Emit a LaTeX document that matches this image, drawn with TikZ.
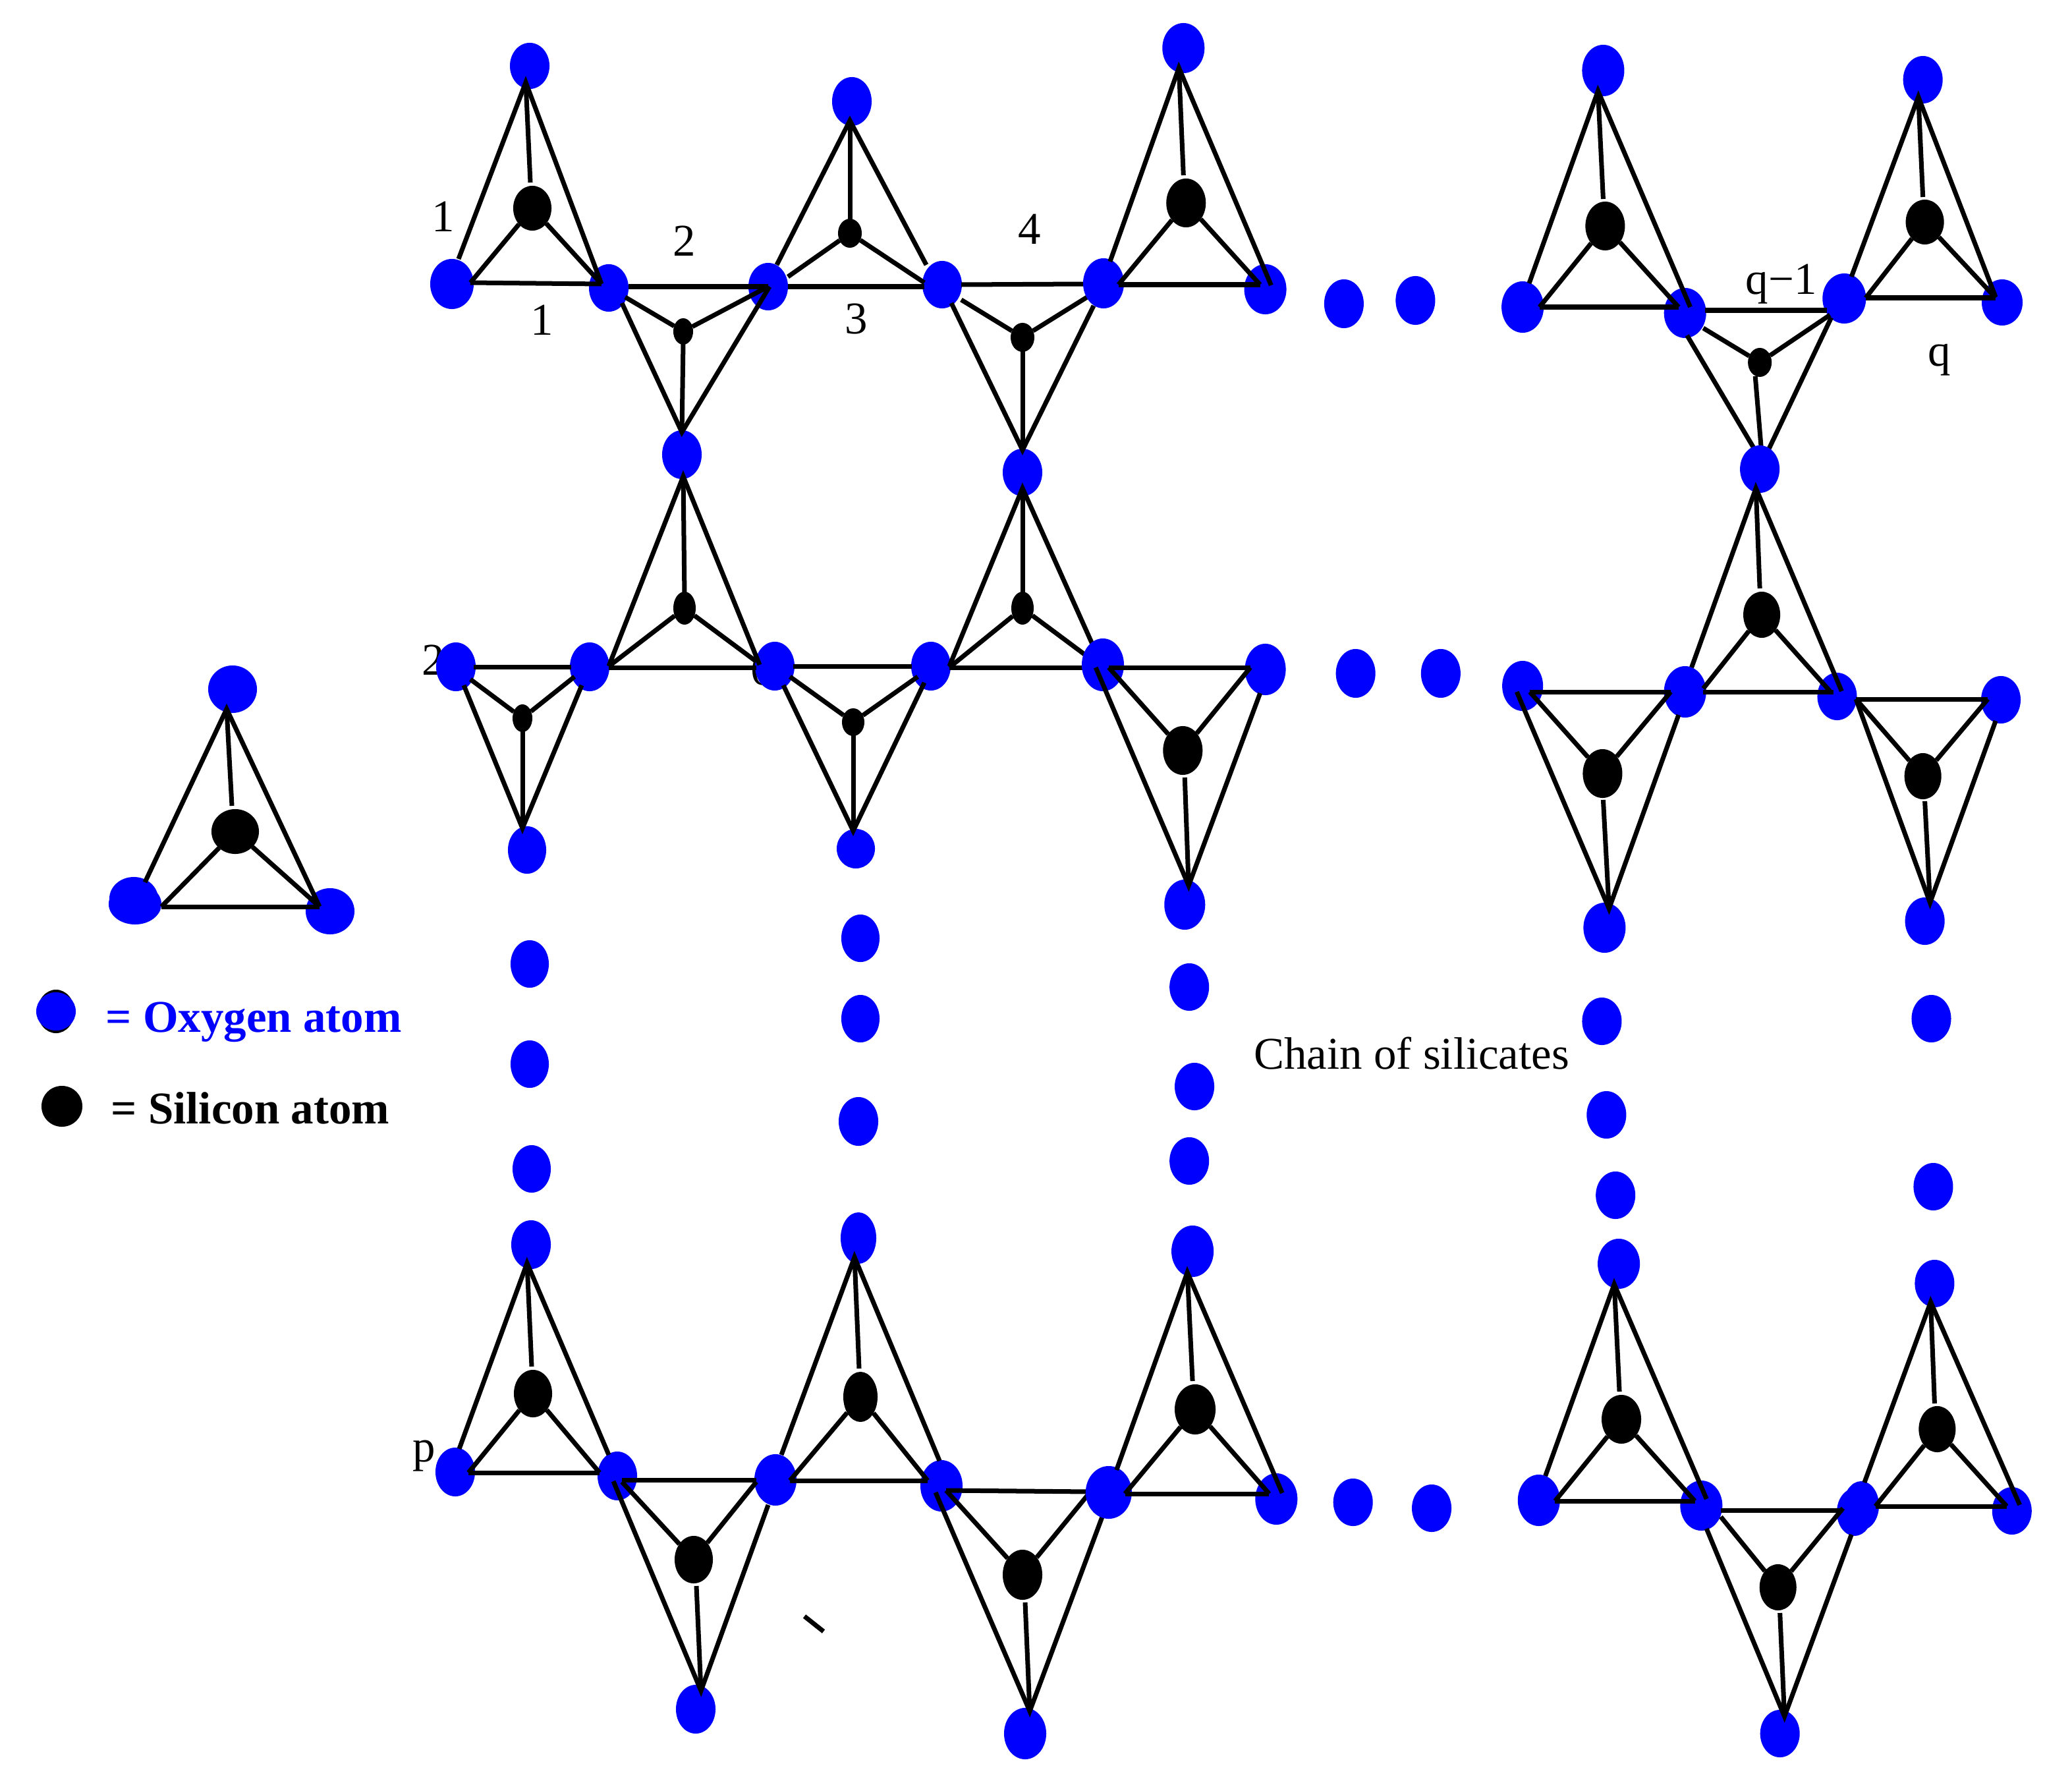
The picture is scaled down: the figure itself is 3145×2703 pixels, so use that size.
\documentclass[tikz,border=0pt]{standalone}
\usepackage{fontspec}
\setmainfont{Liberation Serif}
\usetikzlibrary{shapes.geometric}
\tikzset{
  oxyatom/.style={ellipse,fill={rgb,255:red,0;green,0;blue,255},draw=none,inner sep=0pt,outer sep=0pt},
  silatom/.style={ellipse,fill=black,draw=none,inner sep=0pt,outer sep=0pt},
  bond/.style={line width=0.07cm,black,line join=miter,miter limit=10},
  lbl/.style={font=\fontsize{19.6}{24}\selectfont,inner sep=0pt,black},
  key/.style={font=\fontsize{19.6}{24}\selectfont\bfseries,inner sep=0pt,anchor=base west}
}
\newcommand\oxy[5]{\node[oxyatom,minimum width=#4*0.02cm,minimum height=#5*0.02cm] (#1) at (#2,#3) {};}
\newcommand\sil[5]{\node[silatom,minimum width=#4*0.02cm,minimum height=#5*0.02cm] (#1) at (#2,#3) {};}
% name, apex, base left, base right, leg end 1, leg end 2, Si-apex end, bond end 1, bond end 2
\newcommand\tetb[9]{%
  \coordinate (#1-p) at (#2);\coordinate (#1-q) at (#3);\coordinate (#1-r) at (#4);
  \coordinate (#1-l) at (#5);\coordinate (#1-m) at (#6);\coordinate (#1-t) at (#7);
  \coordinate (#1-u) at (#8);\coordinate (#1-v) at (#9);
  \draw[bond] (#1-l) -- (#1-p) -- (#1-m);
  \draw[bond] (#1-q) -- (#1-r);
  \draw[bond] (#1-p) -- (#1-t);
  \draw[bond] (#1) -- (#1-u);
  \draw[bond] (#1) -- (#1-v);}
\newcommand\tet[7]{\tetb{#1}{#2}{#3}{#4}{#5}{#6}{#7}{#3}{#4}}
\begin{document}
\begin{tikzpicture}[x=0.01cm,y=-0.01cm]
\useasboundingbox (0,0) rectangle (3145,2703);
% labels
\node[lbl] (n1) at (673,329) {1};
\node[lbl] (n2) at (823,486) {1};
\node[lbl] (n3) at (1039,366) {2};
\node[lbl] (n4) at (1300,484) {3};
\node[lbl] (n5) at (1563,348) {4};
\node[lbl] (n6) at (658,1002) {2};
\node[lbl] (n7) at (1157,1017) {6};
\node[lbl] (n8) at (644,2210) {p};
% left part atoms
\oxy{t1a}{804}{100}{30}{35}
\oxy{t1l}{686}{431}{33}{38}
\oxy{t1r}{924}{437}{30}{36}
\oxy{t3a}{1293}{154}{30}{37}
\oxy{t2r}{1166}{435}{30}{36}
\oxy{t3r}{1430}{432}{30}{36}
\oxy{t2b}{1035}{690}{30}{37}
\oxy{t4b}{1552}{717}{30}{36}
\oxy{u1l}{895}{1012}{30}{37}
\oxy{u1r}{1176}{1011}{30}{37}
\oxy{d1l}{692}{1012}{30}{37}
\oxy{d1b}{800}{1290}{29}{36}
\oxy{u2l}{1413}{1011}{30}{37}
\oxy{d2b}{1299}{1288}{29}{30}
\sil{t1}{808}{316}{29}{34}
\sil{t2}{1037}{503}{15}{20}
\sil{t3}{1290}{354}{18}{22}
\sil{t4}{1552}{512}{18}{22}
\sil{u1}{1039}{923}{17}{25}
\sil{d1}{793}{1090}{15}{21}
\sil{d2}{1295}{1096}{17}{21}
\sil{u2}{1552}{923}{17}{25}
% columns of dots, left
\oxy{c1a}{804}{1463}{29}{36}
\oxy{c1b}{804}{1615}{29}{36}
\oxy{c1c}{807}{1774}{29}{36}
\oxy{c1d}{806}{1889}{30}{37}
\oxy{c2a}{1306}{1424}{29}{36}
\oxy{c2b}{1306}{1546}{29}{36}
\oxy{c2c}{1303}{1702}{30}{37}
\oxy{c2d}{1303}{1879}{27}{39}
% bottom row, left
\oxy{b1l}{691}{2234}{30}{37}
\oxy{b1r}{937}{2240}{30}{37}
\oxy{b2b}{1056}{2594}{30}{37}
\oxy{b3l}{1177}{2246}{32}{39}
\oxy{b3r}{1429}{2255}{32}{39}
\oxy{b4b}{1556}{2631}{32}{39}
\sil{b1}{809}{2115}{29}{36}
\sil{b2}{1053}{2367}{29}{36}
\sil{b3}{1306}{2120}{26}{38}
\sil{b4}{1552}{2390}{30}{38}
% single tetrahedron
\oxy{sa}{353}{1046}{37}{36}
\oxy{sla}{203}{1364}{37}{33}
\oxy{slb}{205}{1372}{40}{31}
\oxy{sr}{501}{1383}{37}{35}
\sil{s}{357}{1262}{36}{34}
% legend
\sil{kb}{85}{1535}{28}{33}
\oxy{ko}{85}{1535}{30}{29}
\sil{ks}{94}{1679}{31}{31}
\node[key,text={rgb,255:red,0;green,0;blue,255}] (kt1) at (160,1566) {= Oxygen atom};
\node[key] (kt2) at (168,1705) {= Silicon atom};
% B8 left atom (two overlapping)
\oxy{b8la}{2825}{2285}{27}{37}
\oxy{b8lb}{2815}{2295}{27}{36}
% stray tick
\coordinate (ticka) at (1221,2453);
\coordinate (tickb) at (1250,2476);
\draw[bond] (ticka) -- (tickb);
% tetrahedra, left part
\tet{t1}{798,125}{714,429}{913,431}{696,393}{913,431}{805,277}
\tetb{t2}{1035,656}{954,435}{1166,435}{944,460}{1168,435}{1037,520}{949,451}{1166,435}
\tetb{t3}{1290,183}{1196,435}{1403,435}{1179,402}{1406,402}{1290,340}{1196,420}{1403,429}
\tetb{t4}{1552,683}{1459,432}{1645,431}{1444,460}{1660,464}{1552,525}{1459,455}{1650,451}
\tetb{u1}{1037,723}{924,1013}{1148,1013}{924,1011}{1153,1009}{1039,905}{927,1009}{1148,1004}
\tetb{d1}{793,1257}{719,1012}{867,1012}{704,1040}{883,1040}{793,1100}{714,1031}{872,1027}
\tetb{d2}{1295,1261}{1204,1011}{1384,1011}{1189,1040}{1403,1036}{1295,1105}{1199,1027}{1393,1027}
\tetb{u2}{1552,741}{1441,1013}{1645,1013}{1441,1011}{1660,982}{1552,910}{1441,1013}{1650,996}
\tet{b1}{800,1917}{711,2235}{910,2235}{697,2199}{924,2208}{807,2074}
\tetb{b2}{1064,2566}{944,2246}{1148,2246}{931,2248}{1166,2284}{1057,2407}{944,2249}{1148,2249}
\tet{b3}{1297,1908}{1199,2247}{1408,2247}{1186,2208}{1426,2217}{1304,2077}
\tet{b4}{1563,2597}{1436,2262}{1655,2264}{1420,2265}{1673,2302}{1556,2432}
\tet{s}{344,1076}{245,1376}{485,1376}{220,1339}{485,1376}{352,1223}
% right part: horizontal positions measured on a slightly stretched crop
\begin{scope}[x=0.00985cm,xshift=0.21cm]
\node[lbl] (n9) at (2720,431) {q−1};
\node[lbl] (n10) at (2963,546) {q};
\node[lbl,anchor=base west] (n11) at (1908,1622) {Chain of silicates};
\oxy{t5l}{1677}{430}{31}{38}
\oxy{t5a}{1800}{73}{32}{38}
\oxy{t5r}{1926}{439}{32}{38}
\sil{t5}{1804}{308}{30}{37}
\oxy{h1a}{2047}{461}{30}{37}
\oxy{h1b}{2157}{456}{30}{37}
\oxy{t6l}{2322}{466}{32}{39}
\oxy{t6a}{2446}{107}{32}{39}
\oxy{t6r}{2572}{475}{32}{38}
\sil{t6}{2449}{343}{30}{37}
\oxy{t8l}{2817}{453}{33}{38}
\oxy{t8a}{2938}{121}{30}{36}
\oxy{t8r}{3060}{459}{31}{35}
\sil{t8}{2941}{337}{29}{34}
\sil{t7}{2687}{550}{18}{22}
\oxy{m1}{1676}{1009}{32}{40}
\oxy{m2}{1926}{1016}{31}{39}
\sil{d3}{1799}{1139}{30}{37}
\oxy{d3b}{1802}{1373}{31}{38}
\oxy{h2a}{2065}{1022}{30}{37}
\oxy{h2b}{2196}{1022}{30}{37}
\oxy{m3}{2322}{1041}{31}{38}
\oxy{m4}{2572}{1050}{32}{39}
\oxy{m5}{2806}{1057}{30}{36}
\oxy{m6}{3058}{1062}{30}{36}
\sil{u3}{2690}{933}{28}{35}
\sil{d4}{2445}{1174}{30}{37}
\oxy{d4b}{2448}{1408}{32}{38}
\sil{d5}{2938}{1178}{28}{35}
\oxy{d5b}{2941}{1398}{30}{36}
\oxy{c3a}{1809}{1498}{30}{36}
\oxy{c3b}{1817}{1649}{30}{36}
\oxy{c3c}{1809}{1762}{30}{36}
\oxy{c3d}{1814}{1899}{32}{39}
\oxy{c4a}{2444}{1550}{30}{36}
\oxy{c4b}{2451}{1692}{30}{36}
\oxy{c4c}{2465}{1814}{30}{36}
\oxy{c4d}{2470}{1918}{32}{38}
\oxy{c5a}{2951}{1546}{30}{36}
\oxy{c5b}{2954}{1801}{30}{36}
\oxy{c5c}{2956}{1948}{30}{36}
\oxy{b5l}{1685}{2265}{35}{40}
\sil{b5}{1818}{2139}{31}{38}
\oxy{b5r}{1943}{2275}{32}{39}
\oxy{h3a}{2061}{2280}{30}{36}
\oxy{h3b}{2182}{2289}{30}{36}
\oxy{b6l}{2347}{2277}{32}{39}
\sil{b6}{2474}{2154}{30}{37}
\oxy{b6r}{2597}{2285}{32}{38}
\sil{b7}{2715}{2409}{28}{35}
\oxy{b7b}{2718}{2631}{30}{36}
\sil{b8}{2960}{2169}{28}{35}
\oxy{b8r}{3075}{2293}{30}{36}
\tet{t5}{1793,103}{1700,432}{1918,432}{1687,397}{1935,433}{1800,266}
\tet{t6}{2438,138}{2348,466}{2562,466}{2332,430}{2580,466}{2446,302}
\tetb{t7}{2691,702}{2603,471}{2790,471}{2575,509}{2797,482}{2680,571}{2600,498}{2795,478}
\oxy{t7b}{2687}{712}{30}{36}
\tet{t8}{2931,147}{2850,452}{3050,452}{2828,420}{3050,451}{2938,299}
\tet{d3}{1808,1344}{1685,1013}{1903,1013}{1665,1013}{1918,1052}{1802,1180}
\tetb{u3}{2681,741}{2600,1050}{2800,1050}{2582,1013}{2813,1049}{2687,893}{2600,1045}{2795,1049}
\tet{d4}{2455,1379}{2333,1050}{2550,1050}{2313,1050}{2562,1085}{2446,1214}
\tet{d5}{2949,1370}{2835,1061}{3038,1061}{2835,1061}{3050,1094}{2941,1216}
\tet{b5}{1806,1931}{1710,2267}{1932,2267}{1697,2231}{1952,2266}{1814,2096}
\tet{b6}{2463,1949}{2372,2278}{2587,2278}{2357,2240}{2605,2275}{2471,2112}
\tetb{b7}{2725,2605}{2627,2292}{2815,2292}{2605,2320}{2828,2329}{2718,2448}{2627,2302}{2815,2289}
\tet{b8}{2950,1976}{2865,2286}{3067,2286}{2848,2250}{3087,2284}{2956,2130}
\end{scope}
\end{tikzpicture}
\end{document}
